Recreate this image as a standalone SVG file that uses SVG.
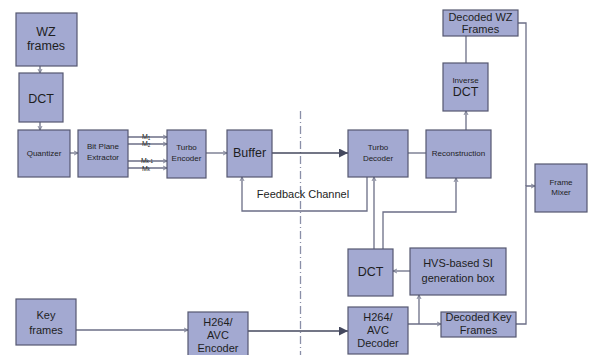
<svg xmlns="http://www.w3.org/2000/svg" width="592" height="355" viewBox="0 0 592 355">
<defs>
<marker id="open" viewBox="0 0 10 10" refX="9" refY="5" markerWidth="5" markerHeight="7" markerUnits="userSpaceOnUse" orient="auto">
<path d="M1,1 L9,5 L1,9" fill="none" stroke="#6b6e86" stroke-width="1.6"/>
</marker>
<marker id="fill" viewBox="0 0 10 10" refX="10" refY="5" markerWidth="11" markerHeight="9" markerUnits="userSpaceOnUse" orient="auto">
<path d="M0,0 L10,5 L0,10 z" fill="#44485e"/>
</marker>
</defs>
<style>
rect{fill:#a3a9d1;stroke:#555870;stroke-width:1.2}
text{font-family:"Liberation Sans",Arial,sans-serif;fill:#1e1e1e;text-anchor:middle}
.s{font-size:8px}
.m{font-size:11px}
.l{font-size:12.5px}
.c{fill:none;stroke:#6b6e86;stroke-width:1.3}
.d{fill:none;stroke:#44485e;stroke-width:1.3}
.ml{font-size:7px;text-anchor:start}
</style>
<rect x="0" y="0" width="592" height="355" style="fill:#fff;stroke:none"/>
<line x1="300.5" y1="111" x2="300.5" y2="355" stroke="#8a8fa8" stroke-width="1.3" stroke-dasharray="8,3,1,3"/>
<g id="connectors">
<path class="c" d="M40,66 V73" marker-end="url(#open)"/>
<path class="c" d="M40,122 V130" marker-end="url(#open)"/>
<path class="c" d="M70,153 H78" marker-end="url(#open)"/>
<path class="c" d="M128,137 H167" marker-end="url(#open)"/>
<path class="c" d="M128,144 H167" marker-end="url(#open)"/>
<path class="c" d="M128,161 H167" marker-end="url(#open)"/>
<path class="c" d="M128,168 H167" marker-end="url(#open)"/>
<path class="c" d="M206,153 H227" marker-end="url(#open)"/>
<path class="d" d="M272,153 H348" marker-end="url(#fill)"/>
<path class="c" d="M408,153 H426"/>
<path class="c" d="M466,130 V111" marker-end="url(#open)"/>
<path class="c" d="M466,63 V36"/>
<path class="c" d="M367,177 V211 H242 V177" marker-end="url(#open)"/>
<path class="c" d="M374,249 V177" marker-end="url(#open)"/>
<path class="c" d="M383,249 V212 H456 V178" marker-end="url(#open)"/>
<path class="c" d="M410,271 H393" marker-end="url(#open)"/>
<path class="c" d="M408,324 H441" marker-end="url(#open)"/>
<path class="c" d="M419,324 V295" marker-end="url(#open)"/>
<path class="c" d="M516,324 H526 V186 H535" marker-end="url(#open)"/>
<path class="c" d="M518,23 H526 V186"/>
<path class="c" d="M76,330 H188" marker-end="url(#open)"/>
<path class="d" d="M248,331 H348" marker-end="url(#fill)"/>
<text class="ml" x="142" y="139">M<tspan font-size="4.5" dy="1">1</tspan></text>
<text class="ml" x="142" y="146">M<tspan font-size="4.5" dy="1">2</tspan></text>
<text class="ml" x="141" y="162.5">M<tspan font-size="4.5" dy="0.5">k-1</tspan></text>
<text class="ml" x="142" y="170.5">M<tspan font-size="4.5" dy="0.5">k</tspan></text>
<text class="m" x="303" y="198">Feedback Channel</text>
</g>
<g id="wz"><rect x="16" y="13" width="61" height="53"/><text class="l" x="46" y="36">WZ</text><text class="l" x="46" y="50">frames</text></g>
<g id="dct1"><rect x="19" y="73" width="44" height="49"/><text class="l" x="41" y="103">DCT</text></g>
<g id="quant"><rect x="18" y="130" width="52" height="47"/><text class="s" x="44" y="156">Quantizer</text></g>
<g id="bpe"><rect x="78" y="130" width="50" height="47"/><text class="s" x="103" y="149">Bit Plane</text><text class="s" x="103" y="160">Extractor</text></g>
<g id="tenc"><rect x="167" y="130" width="39" height="48"/><text class="s" x="186.5" y="150">Turbo</text><text class="s" x="186.5" y="161">Encoder</text></g>
<g id="buffer"><rect x="227" y="130" width="45" height="47"/><text class="l" x="249.5" y="157">Buffer</text></g>
<g id="tdec"><rect x="348" y="130" width="60" height="47"/><text class="s" x="378" y="150">Turbo</text><text class="s" x="378" y="161">Decoder</text></g>
<g id="recon"><rect x="426" y="130" width="65" height="48"/><text class="s" x="458.5" y="156">Reconstruction</text></g>
<g id="idct"><rect x="443" y="63" width="45" height="48"/><text class="s" x="465.5" y="83">Inverse</text><text class="l" x="465.5" y="96">DCT</text></g>
<g id="dwz"><rect x="443" y="10" width="75" height="26"/><text class="m" x="480.5" y="21">Decoded WZ</text><text class="m" x="480.5" y="33">Frames</text></g>
<g id="mixer"><rect x="535" y="164" width="52" height="48"/><text class="s" x="561" y="185">Frame</text><text class="s" x="561" y="195">Mixer</text></g>
<g id="dct2"><rect x="348" y="249" width="45" height="47"/><text class="l" x="370.5" y="276">DCT</text></g>
<g id="hvs"><rect x="410" y="248" width="96" height="47"/><text class="m" x="458" y="267">HVS-based SI</text><text class="m" x="458" y="282">generation box</text></g>
<g id="h264dec"><rect x="348" y="307" width="60" height="47"/><text class="m" x="378" y="321">H264/</text><text class="m" x="378" y="334">AVC</text><text class="m" x="378" y="347">Decoder</text></g>
<g id="dkf"><rect x="441" y="312" width="75" height="25"/><text class="m" x="478.5" y="321">Decoded Key</text><text class="m" x="478.5" y="334">Frames</text></g>
<g id="key"><rect x="16" y="299" width="60" height="46"/><text class="m" x="46" y="319">Key</text><text class="m" x="46" y="334">frames</text></g>
<g id="h264enc"><rect x="188" y="312" width="60" height="46"/><text class="m" x="218" y="326">H264/</text><text class="m" x="218" y="339">AVC</text><text class="m" x="218" y="352">Encoder</text></g>
</svg>
